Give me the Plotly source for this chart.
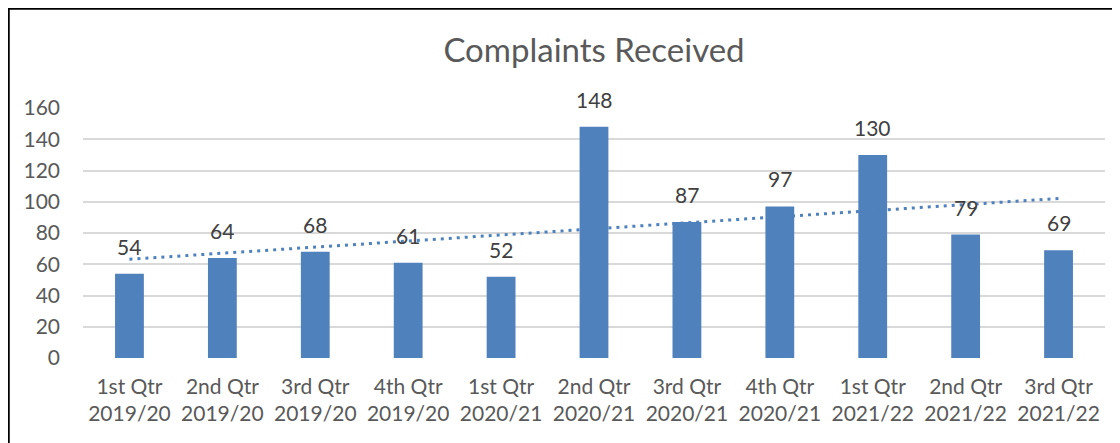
import numpy as np
import plotly.graph_objects as go

quarters = ["1st Qtr", "2nd Qtr", "3rd Qtr", "4th Qtr", "1st Qtr", "2nd Qtr",
            "3rd Qtr", "4th Qtr", "1st Qtr", "2nd Qtr", "3rd Qtr"]
years = ["2019/20", "2019/20", "2019/20", "2019/20", "2020/21", "2020/21",
         "2020/21", "2020/21", "2021/22", "2021/22", "2021/22"]
complaints = [54, 64, 68, 61, 52, 148, 87, 97, 130, 79, 69]
y_ticks = [0, 20, 40, 60, 80, 100, 120, 140, 160]

labels = [f"{q}<br>{y}" for q, y in zip(quarters, years)]
xs = list(range(len(complaints)))

# linear trendline (least squares, like Excel)
slope, intercept = np.polyfit(np.arange(1, len(complaints) + 1), complaints, 1)
trend = [intercept + slope * (i + 1) for i in xs]

BLUE = "#4F81BD"
FONT = "Lato"

fig = go.Figure()
fig.add_trace(go.Bar(x=xs, y=complaints, marker=dict(color=BLUE, line=dict(width=0)),
                     width=0.31, showlegend=False, hoverinfo="skip"))
fig.add_trace(go.Scatter(x=xs, y=trend, mode="lines",
                         line=dict(color=BLUE, width=3, dash="3px,5px"),
                         showlegend=False, hoverinfo="skip"))

for x, v in zip(xs, complaints):
    fig.add_annotation(x=x, y=v, text=str(v), showarrow=False, yanchor="bottom",
                       yshift=13, font=dict(family=FONT, size=21, color="#404040"))

# page has an 8px body margin; figure is placed at (8, 8)
W, H = 1112, 435
ml, mt = 75, 100
pw, ph = 1022, 250
mr, mb = W - ml - pw, H - mt - ph

def px2paper_x(px):
    return (px - ml) / pw

def px2paper_y(py):
    return (mt + ph - py) / ph

# chart border (top and left edges are visible in the crop)
fig.add_shape(type="line", xref="paper", yref="paper",
              x0=px2paper_x(0), x1=px2paper_x(W),
              y0=px2paper_y(0.5), y1=px2paper_y(0.5),
              line=dict(color="black", width=2.5), layer="above")
fig.add_shape(type="line", xref="paper", yref="paper",
              x0=px2paper_x(0.5), x1=px2paper_x(0.5),
              y0=px2paper_y(0), y1=px2paper_y(H),
              line=dict(color="black", width=2.5), layer="above")

fig.update_layout(
    width=W, height=H,
    margin=dict(l=ml, r=mr, t=mt, b=mb),
    paper_bgcolor="white", plot_bgcolor="white",
    title=dict(text="Complaints Received", x=0.5, xanchor="center", y=1 - 42 / H,
               yanchor="middle", xref="paper",
               font=dict(family=FONT, size=33, color="#595959")),
    font=dict(family=FONT, color="#595959"),
    xaxis=dict(range=[-0.5, len(xs) - 0.5], tickmode="array", tickvals=xs, ticktext=labels,
               showgrid=False, zeroline=False, showline=False, ticks="",
               ticklabelstandoff=14,
               tickfont=dict(family=FONT, size=21, color="#595959")),
    yaxis=dict(range=[0, 160], tickmode="array", tickvals=y_ticks,
               ticktext=[str(t) for t in y_ticks],
               showgrid=True, gridcolor="#D9D9D9", gridwidth=1.5,
               zeroline=False, showline=False, ticks="", ticklabelstandoff=22,
               tickfont=dict(family=FONT, size=21, color="#595959")),
)

fig.write_html("out.html")
